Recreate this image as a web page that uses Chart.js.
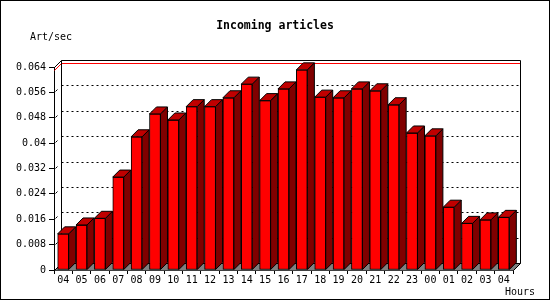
<!DOCTYPE html>
<html>
<head>
<meta charset="utf-8">
<script src="https://cdn.jsdelivr.net/npm/chart.js@4/dist/chart.umd.min.js"></script>
<style>
  html, body { margin: 0; padding: 0; background: #fff; }
  #wrap { width: 550px; height: 300px; }
</style>
</head>
<body>
<div id="wrap"><canvas id="inChart" width="550" height="300"></canvas></div>
<script>
// hours of the day, oldest first
const hours = ['04','05','06','07','08','09','10','11','12','13','14','15','16',
               '17','18','19','20','21','22','23','00','01','02','03','04'];
// incoming articles per second for each hour
const artPerSec = [0.0114, 0.0142, 0.0163, 0.0293, 0.0420, 0.0492, 0.0473, 0.0515,
                   0.0515, 0.0543, 0.0586, 0.0534, 0.0571, 0.0631, 0.0545, 0.0543,
                   0.0571, 0.0565, 0.0521, 0.0432, 0.0423, 0.0198, 0.0147, 0.0158, 0.0166];
const yTicks = ['0','0.008','0.016','0.024','0.032','0.04','0.048','0.056','0.064'];
const yStep = 0.008;
const yMax = 0.064;

const titleText = 'Incoming articles';
const yUnit = 'Art/sec';
const xUnit = 'Hours';

const DEPTH = 7;
const FONT = 'DejaVu Sans Mono';

Chart.defaults.font.family = FONT;
Chart.defaults.font.size = 10;
Chart.defaults.color = '#000';

// back wall, floor, grid lines and the max line, drawn behind the bars
const backWall = {
    id: 'backWall',
    beforeDatasetsDraw(chart) {
        const ctx = chart.ctx, a = chart.chartArea, y = chart.scales.y;
        const L = Math.round(a.left) + 0.5, R = Math.round(a.right) + 0.5;
        const T = Math.round(a.top) + 0.5, B = Math.round(a.bottom) + 0.5;
        const D = DEPTH;
        ctx.save();
        ctx.lineWidth = 1;

        // floor
        ctx.fillStyle = '#808080';
        ctx.beginPath();
        ctx.moveTo(L, B); ctx.lineTo(R, B); ctx.lineTo(R + D, B - D); ctx.lineTo(L + D, B - D);
        ctx.closePath();
        ctx.fill();

        // dotted grid on the back wall + small slant ticks
        ctx.strokeStyle = '#000';
        yTicks.forEach((t, i) => {
            const v = i * yStep;
            if (v <= 0 || v >= yMax - 1e-9) return;
            const py = Math.round(y.getPixelForValue(v)) + 0.5;
            ctx.setLineDash([2, 3]);
            ctx.beginPath();
            ctx.moveTo(L + D, py - D); ctx.lineTo(R + D, py - D);
            ctx.stroke();
            ctx.setLineDash([]);
            ctx.beginPath();
            ctx.moveTo(L + 1, py - 1); ctx.lineTo(L + 3, py - 3);
            ctx.stroke();
        });

        // max value line
        const maxV = Math.max(...artPerSec);
        const my = Math.round(y.getPixelForValue(maxV)) + 0.5;
        ctx.strokeStyle = '#ff0000';
        ctx.beginPath();
        ctx.moveTo(L, my); ctx.lineTo(L + D, my - D); ctx.lineTo(R + D, my - D);
        ctx.stroke();

        // wall outline
        ctx.strokeStyle = '#000';
        ctx.beginPath();
        ctx.moveTo(L, T); ctx.lineTo(L + D, T - D); ctx.lineTo(R + D, T - D);
        ctx.lineTo(R + D, B - D); ctx.lineTo(R, B);
        ctx.moveTo(L + D, T - D); ctx.lineTo(L + D, B - D); ctx.lineTo(R + D, B - D);
        ctx.moveTo(L, B); ctx.lineTo(L + D, B - D);
        ctx.stroke();
        ctx.restore();
    }
};

// side and top faces of every bar
const barFaces = {
    id: 'barFaces',
    afterDatasetsDraw(chart) {
        const ctx = chart.ctx, D = DEPTH;
        ctx.save();
        ctx.lineWidth = 1;
        ctx.strokeStyle = '#000';
        chart.getDatasetMeta(0).data.forEach(bar => {
            const p = bar.getProps(['x', 'y', 'base', 'width'], true);
            const x1 = p.x - p.width / 2, x2 = p.x + p.width / 2;
            const top = p.y, base = p.base;
            ctx.fillStyle = '#800000';
            ctx.beginPath();
            ctx.moveTo(x2, top); ctx.lineTo(x2 + D, top - D);
            ctx.lineTo(x2 + D, base - D); ctx.lineTo(x2, base);
            ctx.closePath();
            ctx.fill(); ctx.stroke();
            ctx.fillStyle = '#c00000';
            ctx.beginPath();
            ctx.moveTo(x1, top); ctx.lineTo(x1 + D, top - D);
            ctx.lineTo(x2 + D, top - D); ctx.lineTo(x2, top);
            ctx.closePath();
            ctx.fill(); ctx.stroke();
        });
        ctx.restore();
    }
};

// title, unit labels and frame
const labels = {
    id: 'labels',
    afterDraw(chart) {
        const ctx = chart.ctx;
        ctx.save();
        ctx.fillStyle = '#000';
        ctx.textBaseline = 'middle';
        ctx.font = 'bold 11.5px ' + FONT;
        ctx.textAlign = 'center';
        ctx.fillText(titleText, 275, 26);
        ctx.font = '10px ' + FONT;
        ctx.textAlign = 'left';
        ctx.fillText(yUnit, 30, 37);
        ctx.textAlign = 'right';
        ctx.fillText(xUnit, 535, 292);
        ctx.strokeStyle = '#000';
        ctx.lineWidth = 1;
        ctx.strokeRect(0.5, 0.5, 549, 299);
        ctx.restore();
    }
};

const ctx = document.getElementById('inChart').getContext('2d');
const inChart = new Chart(ctx, {
    type: 'bar',
    data: {
        labels: hours,
        datasets: [{
            data: artPerSec,
            backgroundColor: '#ff0000',
            borderColor: '#000',
            borderWidth: 1,
            borderSkipped: false,
            barThickness: 11,
        }],
    },
    options: {
        responsive: false,
        animation: false,
        events: [],
        layout: { padding: { top: 67, right: 37, left: 0, bottom: 0 } },
        plugins: { legend: { display: false }, title: { display: false }, tooltip: { enabled: false } },
        scales: {
            x: {
                grid: { drawOnChartArea: false, tickLength: 4, color: '#000', offset: true },
                border: { color: '#000' },
                ticks: { padding: 0, maxRotation: 0, autoSkip: false },
                afterFit: s => { s.height = 30; },
            },
            y: {
                min: 0,
                max: yMax,
                grid: { drawOnChartArea: false, tickLength: 5, color: '#000' },
                border: { color: '#000' },
                ticks: { stepSize: yStep, padding: 3, callback: (v, i) => yTicks[i] },
                afterFit: s => { s.width = 54; },
            },
        },
    },
    plugins: [backWall, barFaces, labels],
});
</script>
</body>
</html>
